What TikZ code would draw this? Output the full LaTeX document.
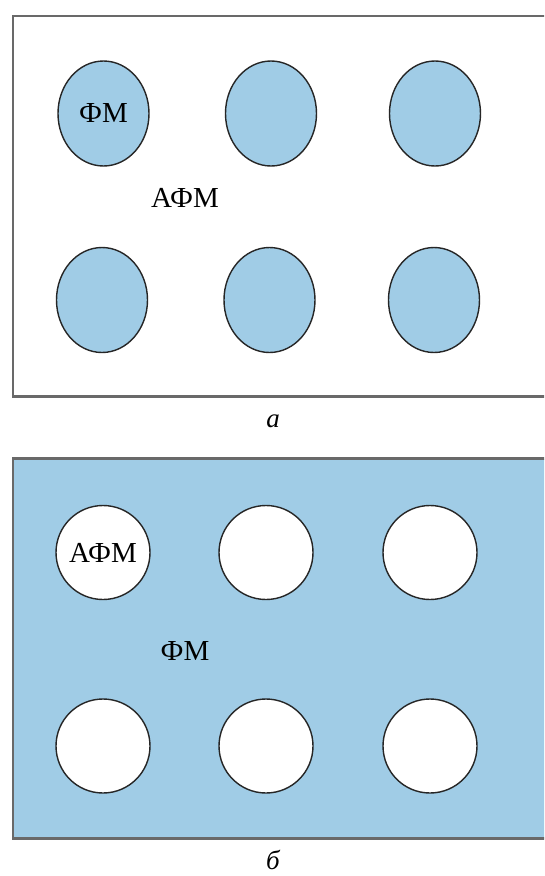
\documentclass[tikz,border=0pt]{standalone}
\usepackage{fontspec}
\setmainfont{Liberation Serif}
\usetikzlibrary{shapes.geometric}
\definecolor{fmblue}{RGB}{160,204,230}
\definecolor{framegray}{RGB}{105,105,105}
\tikzset{
  dotA/.style={ellipse, draw=black!85, line width=1.4pt, fill=fmblue, minimum width=91pt, minimum height=105pt, inner sep=0pt, font=\fontsize{29}{33}\selectfont},
  dotB/.style={circle, draw=black!85, line width=1.4pt, fill=white, minimum size=94pt, inner sep=0pt, font=\fontsize{29}{33}\selectfont},
  lbl/.style={font=\fontsize{29}{33}\selectfont, inner sep=0pt},
  figcap/.style={font=\itshape\fontsize{27}{31}\selectfont, inner sep=0pt},
  panel/.style={draw=framegray, line width=2.2pt}
}
\begin{document}
\begin{tikzpicture}[x=1pt,y=-1pt]
\useasboundingbox (0,0) rectangle (544,876);
\clip (0,0) rectangle (544,876);
\fill[white] (0,0) rectangle (544,876);
% panel a
\draw[panel, fill=white] (13,16) rectangle (560,396.5);
\node[dotA] (a1) at (103.5,113.5) {ФМ};
\node[dotA] (a2) at (271,113.5) {};
\node[dotA] (a3) at (435,113.5) {};
\node[dotA] (a4) at (102,300) {};
\node[dotA] (a5) at (269.5,300) {};
\node[dotA] (a6) at (434,300) {};
\node[lbl] (afm) at (185,198) {АФМ};
\node[figcap] (capa) at (273,421) {а};
% panel b
\draw[panel, fill=fmblue] (13,458.5) rectangle (560,838.5);
\node[dotB] (b1) at (103,552.5) {АФМ};
\node[dotB] (b2) at (266,552.5) {};
\node[dotB] (b3) at (430,552.5) {};
\node[dotB] (b4) at (103,746) {};
\node[dotB] (b5) at (266,746) {};
\node[dotB] (b6) at (430,746) {};
\node[lbl] (fm) at (185,651) {ФМ};
\node[figcap] (capb) at (273,860) {б};
\end{tikzpicture}
\end{document}
